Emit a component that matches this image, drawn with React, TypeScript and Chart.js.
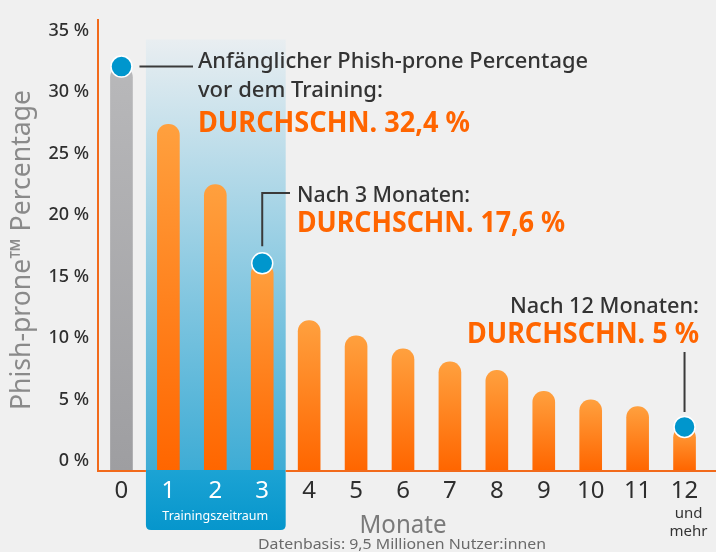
import { useEffect, useRef } from 'react';
import { Chart, registerables } from 'chart.js';

Chart.register(...registerables);

// ---- data ----
const months = ['0', '1', '2', '3', '4', '5', '6', '7', '8', '9', '10', '11', '12'];
const phishProne = [32.8, 28.1, 23.2, 16.8, 12.15, 10.9, 9.85, 8.8, 8.1, 6.4, 5.7, 5.15, 3.5];
const yTickValues = [0, 5, 10, 15, 20, 25, 30, 35];
const trainingRange = [1, 3];
const trainingLabel = 'Trainingszeitraum';
const lastMonthExtra = ['und', 'mehr'];
const note0 = ['Anfänglicher Phish-prone Percentage', 'vor dem Training:', 'DURCHSCHN. 32,4 %'];
const note3 = ['Nach 3 Monaten:', 'DURCHSCHN. 17,6 %'];
const note12 = ['Nach 12 Monaten:', 'DURCHSCHN. 5 %'];
const yTitle = 'Phish-prone™ Percentage';
const xTitle = 'Monate';
const footer = 'Datenbasis: 9,5 Millionen Nutzer:innen';

const FONT = '"Noto Sans", "Open Sans", sans-serif';
const DARK = '#333333';
const ORANGE = '#ff6500';
const AXIS = '#f26a1b';

function fitText(
  ctx: CanvasRenderingContext2D,
  text: string,
  x: number,
  y: number,
  font: string,
  width: number,
  align: CanvasTextAlign,
  color: string
) {
  ctx.save();
  ctx.font = font;
  const w = ctx.measureText(text).width;
  const s = width / w;
  ctx.translate(x, y);
  ctx.scale(s, 1);
  ctx.textAlign = align;
  ctx.textBaseline = 'alphabetic';
  ctx.fillStyle = color;
  ctx.fillText(text, 0, 0);
  ctx.restore();
}

const decorPlugin = {
  id: 'decor',
  beforeDraw(chart: any) {
    const { ctx, chartArea, scales } = chart;
    const xs = scales.x;
    const ys = scales.y;
    ctx.save();
    ctx.fillStyle = '#f0f0f0';
    ctx.fillRect(0, 0, chart.width, chart.height);
    // training region
    const step = xs.getPixelForValue(1) - xs.getPixelForValue(0);
    const left = xs.getPixelForValue(trainingRange[0]) - step / 2 + 1;
    const right = xs.getPixelForValue(trainingRange[1]) + step / 2;
    const top = ys.getPixelForValue(35);
    const bottom = chartArea.bottom;
    const g = ctx.createLinearGradient(0, top, 0, bottom);
    g.addColorStop(0, '#e9eef1');
    g.addColorStop(1, '#3eacd5');
    ctx.fillStyle = g;
    ctx.fillRect(left, top, right - left, bottom - top);
    const boxBottom = 530;
    const g2 = ctx.createLinearGradient(0, bottom, 0, boxBottom);
    g2.addColorStop(0, '#1ca3d4');
    g2.addColorStop(1, '#0696cc');
    ctx.fillStyle = g2;
    ctx.beginPath();
    const r = 5;
    ctx.moveTo(left, bottom);
    ctx.lineTo(right, bottom);
    ctx.lineTo(right, boxBottom - r);
    ctx.quadraticCurveTo(right, boxBottom, right - r, boxBottom);
    ctx.lineTo(left + r, boxBottom);
    ctx.quadraticCurveTo(left, boxBottom, left, boxBottom - r);
    ctx.closePath();
    ctx.fill();
    ctx.restore();
  },
  beforeDatasetsDraw(chart: any) {
    const { ctx, chartArea, scales } = chart;
    const xs = scales.x;
    const step = xs.getPixelForValue(1) - xs.getPixelForValue(0);
    const left = xs.getPixelForValue(trainingRange[0]) - step / 2 + 1;
    const right = xs.getPixelForValue(trainingRange[1]) + step / 2;
    ctx.save();
    ctx.strokeStyle = AXIS;
    ctx.lineWidth = 2;
    const y = chartArea.bottom + 1;
    ctx.beginPath();
    ctx.moveTo(chartArea.left - 1, y);
    ctx.lineTo(left, y);
    ctx.moveTo(right, y);
    ctx.lineTo(chart.width, y);
    ctx.stroke();
    ctx.restore();
  },
  afterDatasetsDraw(chart: any) {
    const { ctx, scales } = chart;
    const xs = scales.x;
    const ys = scales.y;
    const pt = (i: number) => ({ x: xs.getPixelForValue(i), y: ys.getPixelForValue(phishProne[i]) });
    const p0 = pt(0);
    const p3 = pt(3);
    const p12 = pt(12);
    ctx.save();
    // connectors
    ctx.strokeStyle = '#3a3a3a';
    ctx.lineWidth = 2;
    ctx.beginPath();
    ctx.moveTo(p0.x + 18, p0.y);
    ctx.lineTo(193, p0.y);
    ctx.moveTo(p3.x, p3.y - 17);
    ctx.lineTo(p3.x, 193);
    ctx.lineTo(290, 193);
    ctx.moveTo(p12.x, p12.y - 15);
    ctx.lineTo(p12.x, 352);
    ctx.stroke();
    // markers
    for (const p of [p0, p3, p12]) {
      ctx.beginPath();
      ctx.arc(p.x, p.y, 10.5, 0, Math.PI * 2);
      ctx.fillStyle = '#0096cd';
      ctx.fill();
      ctx.lineWidth = 1.5;
      ctx.strokeStyle = '#ffffff';
      ctx.stroke();
    }
    ctx.restore();

    // annotation texts
    fitText(ctx, note0[0], 198, 68, `500 22px ${FONT}`, 390, 'left', DARK);
    fitText(ctx, note0[1], 198, 97, `500 22px ${FONT}`, 185, 'left', DARK);
    fitText(ctx, note0[2], 198, 132, `700 28px ${FONT}`, 272, 'left', ORANGE);
    fitText(ctx, note3[0], 297, 202, `500 22px ${FONT}`, 173, 'left', DARK);
    fitText(ctx, note3[1], 297, 232, `700 28px ${FONT}`, 268, 'left', ORANGE);
    fitText(ctx, note12[0], 699, 313, `500 22px ${FONT}`, 189, 'right', DARK);
    fitText(ctx, note12[1], 699, 343, `700 28px ${FONT}`, 232, 'right', ORANGE);
  },
  afterDraw(chart: any) {
    const { ctx, scales } = chart;
    const xs = scales.x;
    const c1 = xs.getPixelForValue(trainingRange[0]);
    const c3 = xs.getPixelForValue(trainingRange[1]);
    fitText(ctx, trainingLabel, (c1 + c3) / 2, 520, `400 13px ${FONT}`, 106, 'center', '#ffffff');
    const x12 = xs.getPixelForValue(12) + 4;
    ctx.save();
    ctx.font = `400 15px ${FONT}`;
    ctx.fillStyle = DARK;
    ctx.textAlign = 'center';
    ctx.textBaseline = 'alphabetic';
    ctx.fillText(lastMonthExtra[0], x12, 518);
    ctx.fillText(lastMonthExtra[1], x12, 536);
    ctx.restore();
    fitText(ctx, xTitle, 403, 533, `400 25px ${FONT}`, 87, 'center', '#7a7a7a');
    fitText(ctx, footer, 402, 549, `400 15px ${FONT}`, 288, 'center', '#6a6a6a');
    // y title
    ctx.save();
    ctx.translate(30, 410);
    ctx.rotate(-Math.PI / 2);
    fitText(ctx, yTitle, 0, 0, `400 28px ${FONT}`, 320, 'left', '#8a8a8a');
    ctx.restore();
  },
};

function barGradient(c: any) {
  const chart = c.chart;
  const area = chart.chartArea;
  if (!area || c.type !== 'data') return c.dataIndex === 0 ? '#aaaaac' : '#ff8020';
  const ys = chart.scales.y;
  const top = ys.getPixelForValue(phishProne[c.dataIndex]);
  const g = chart.ctx.createLinearGradient(0, top, 0, area.bottom);
  if (c.dataIndex === 0) {
    g.addColorStop(0, '#b8b8ba');
    g.addColorStop(1, '#9e9ea1');
  } else {
    g.addColorStop(0, '#ffa03e');
    g.addColorStop(1, '#ff6600');
  }
  return g;
}

export default function App() {
  const canvasRef = useRef<HTMLCanvasElement | null>(null);
  useEffect(() => {
    if (!canvasRef.current) return;
    const chart = new Chart(canvasRef.current, {
      type: 'bar',
      data: {
        labels: months,
        datasets: [
          {
            data: phishProne,
            backgroundColor: barGradient,
            barThickness: 22,
            borderRadius: { topLeft: 11, topRight: 11, bottomLeft: 0, bottomRight: 0 },
            borderSkipped: 'bottom',
          },
        ],
      },
      options: {
        animation: false,
        responsive: true,
        maintainAspectRatio: false,
        layout: { padding: { top: 13, right: 8, left: 0, bottom: 0 } },
        plugins: { legend: { display: false }, tooltip: { enabled: false }, title: { display: false } },
        scales: {
          x: {
            grid: { display: false, drawTicks: false },
            border: { display: false },
            ticks: {
              color: (c: any) => (c.index >= trainingRange[0] && c.index <= trainingRange[1] ? '#ffffff' : '#2e2e2e'),
              font: { family: FONT, size: 24 },
              padding: 7,
              maxRotation: 0,
              autoSkip: false,
            },
            afterFit: (s: any) => {
              s.height = 82;
            },
          },
          y: {
            min: 0,
            max: 36.6,
            grid: { display: false, drawTicks: false },
            border: { display: true, color: AXIS, width: 2 },
            afterBuildTicks: (s: any) => {
              s.ticks = yTickValues.map((v) => ({ value: v }));
            },
            ticks: {
              stepSize: 5,
              labelOffset: -9,
              padding: 9,
              color: '#2e2e2e',
              font: { family: FONT, size: 18, weight: '500' },
              callback: (v: any) => `${v} %`,
            },
            afterFit: (s: any) => {
              s.width = 98;
            },
          },
        },
      },
      plugins: [decorPlugin],
    });
    return () => chart.destroy();
  }, []);
  return (
    <div style={{ position: 'fixed', left: 0, top: 0, width: 716, height: 552, background: '#f0f0f0' }}>
      <canvas ref={canvasRef} width={716} height={552} />
    </div>
  );
}
